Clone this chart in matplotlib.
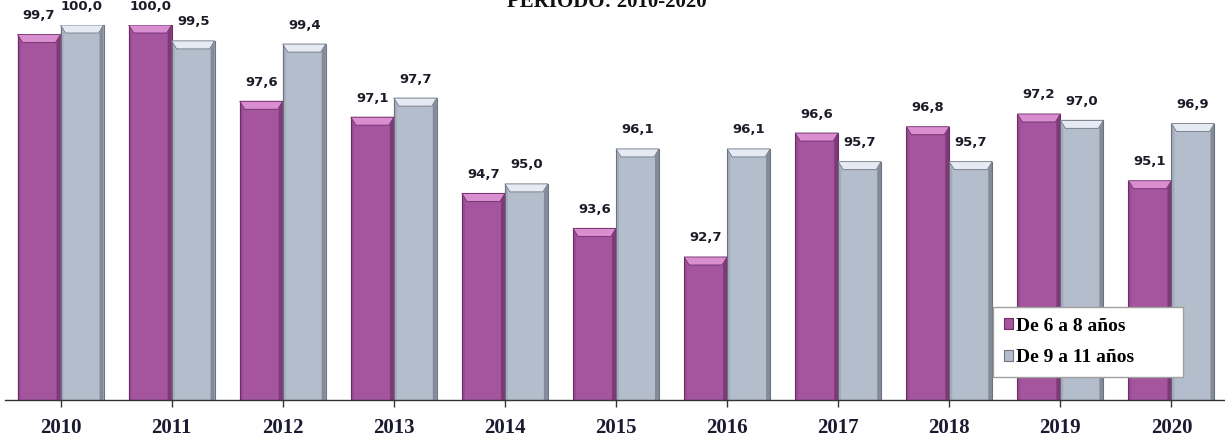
import matplotlib
matplotlib.use("Agg")
import matplotlib.pyplot as plt
from matplotlib.patches import Polygon
import numpy as np

years = ["2010", "2011", "2012", "2013", "2014", "2015", "2016", "2017", "2018", "2019", "2020"]
g6_8 = [99.7, 100.0, 97.6, 97.1, 94.7, 93.6, 92.7, 96.6, 96.8, 97.2, 95.1]
g9_11 = [100.0, 99.5, 99.4, 97.7, 95.0, 96.1, 96.1, 95.7, 95.7, 97.0, 96.9]
series_names = ["De 6 a 8 años", "De 9 a 11 años"]

W, H = 1225, 438
fig = plt.figure(figsize=(W / 100, H / 100), dpi=100)
ax = fig.add_axes([5 / W, 38 / H, 1222 / W, 375 / H])
ymin, ymax = 88.2, 100.0
ax.set_ylim(ymin, ymax)
ax.set_xlim(-0.5, 10.5)

x = np.arange(len(years))
bw = 0.387
px_x = 1222 / 11.0
px_y = 375 / (ymax - ymin)

styles = [
    dict(face="#A5559E", top="#D98ED0", dark="#5E2457", edge="#6E2E68"),
    dict(face="#B4BDCC", top="#E6EBF3", dark="#5C6370", edge="#6F7683"),
]

handles = []
for si, vals in enumerate([g6_8, g9_11]):
    st = styles[si]
    xs = x - bw / 2 if si == 0 else x + bw / 2
    bars = ax.bar(xs, [v - ymin for v in vals], bottom=ymin, width=bw,
                  color=st["face"], edgecolor=st["edge"], linewidth=0.8, zorder=2,
                  label=series_names[si])
    handles.append(bars)
    for rect, v in zip(bars, vals):
        x0 = rect.get_x()
        x1 = x0 + rect.get_width()
        top = v
        h = 8 / px_y
        ins = 5 / px_x
        rw = 4 / px_x
        ax.add_patch(Polygon([(x1 - rw, top - h), (x1, top), (x1, ymin), (x1 - rw, ymin)],
                             closed=True, facecolor=st["dark"], edgecolor="none", alpha=0.55, zorder=3))
        ax.add_patch(Polygon([(x0, top), (x0 + ins * 0.6, top - h), (x0 + ins * 0.6, ymin), (x0, ymin)],
                             closed=True, facecolor=st["dark"], edgecolor="none", alpha=0.18, zorder=3))
        ax.add_patch(Polygon([(x0, top), (x1, top), (x1 - ins, top - h), (x0 + ins, top - h)],
                             closed=True, facecolor=st["top"], edgecolor=st["edge"], linewidth=0.6, zorder=4))
        ax.annotate(f"{v:.1f}".replace(".", ","), xy=((x0 + x1) / 2, top), xytext=(0, 9),
                    textcoords="offset points", ha="center", va="bottom",
                    fontsize=9.5, fontweight="bold", color="#1C1C28", family="DejaVu Sans")

for s in ["top", "right", "left"]:
    ax.spines[s].set_visible(False)
ax.spines["bottom"].set_color("#333333")
ax.spines["bottom"].set_linewidth(1.0)
ax.set_yticks([])
ax.set_xticks(x)
ax.set_xticklabels(years, fontsize=15, fontweight="bold", family="Liberation Serif", color="#1A1A30")
ax.tick_params(axis="x", length=5, width=1, color="#333333", pad=8, direction="out")

leg = ax.legend(handles=handles, labels=series_names, loc="lower left",
                bbox_to_anchor=(988 / 1222, (400 - 377) / 375, (1183 - 993) / 1222, 69 / 375),
                mode="expand", frameon=True, fancybox=False, borderaxespad=0, framealpha=1,
                prop=dict(family="Liberation Serif", weight="bold", size=14),
                handlelength=0.5, handleheight=0.5, handletextpad=0.15, labelspacing=0.75,
                borderpad=0.55)
leg.get_frame().set_edgecolor("#A0A0A0")
leg.get_frame().set_linewidth(1.0)
leg.set_zorder(10)

fig.text(607 / W, 1 - 7 / H, "PERIODO: 2010-2020", ha="center", va="baseline",
         fontsize=15, fontweight="bold", family="Liberation Serif", color="#111111")

fig.savefig("out.png", dpi=100)
